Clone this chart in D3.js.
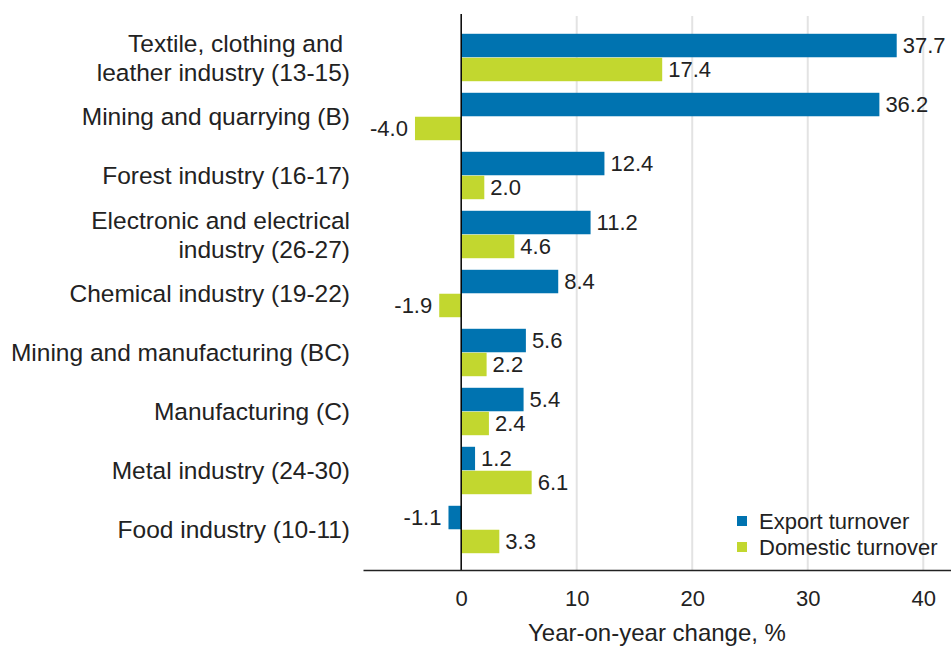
<!DOCTYPE html>
<html>
<head>
<meta charset="utf-8">
<script src="https://cdn.jsdelivr.net/npm/d3@7"></script>
<style>
  body { margin: 0; background: #fff; }
  svg text { font-family: "Liberation Sans", Arial, sans-serif; fill: #222; }
</style>
</head>
<body>
<div id="chart"></div>
<script>
const categories = [
  'Textile, clothing and |leather industry (13-15)',
  'Mining and quarrying (B)',
  'Forest industry (16-17)',
  'Electronic and electrical|industry (26-27)',
  'Chemical industry (19-22)',
  'Mining and manufacturing (BC)',
  'Manufacturing (C)',
  'Metal industry (24-30)',
  'Food industry (10-11)'
];
const exportTurnover = [37.7, 36.2, 12.4, 11.2, 8.4, 5.6, 5.4, 1.2, -1.1];
const domesticTurnover = [17.4, -4.0, 2.0, 4.6, -1.9, 2.2, 2.4, 6.1, 3.3];
const seriesNames = ['Export turnover', 'Domestic turnover'];
const xTicks = [0, 10, 20, 30, 40];

const W = 951, H = 648;
const colors = { 'Export turnover': '#0073b0', 'Domestic turnover': '#c2d72f' };

const svg = d3.select('#chart').append('svg').attr('width', W).attr('height', H);

const x = d3.scaleLinear().domain([-8.5, 42.4]).range([363, 951]);
const y0 = d3.scaleBand().domain(categories).range([28, 559]).paddingInner(0.18).paddingOuter(0.09);
const y1 = d3.scaleBand().domain(seriesNames).range([0, y0.bandwidth()]).padding(0.02);
const plotTop = 14, plotBottom = 570;

// grid
svg.append('g').selectAll('line').data(xTicks.filter(t => t !== 0)).join('line')
  .attr('x1', d => x(d)).attr('x2', d => x(d)).attr('y1', plotTop + 2).attr('y2', plotBottom)
  .attr('stroke', '#e3e3e3').attr('stroke-width', 2);

const rows = categories.map((c, i) => ({
  cat: c,
  vals: [
    { key: seriesNames[0], value: exportTurnover[i] },
    { key: seriesNames[1], value: domesticTurnover[i] }
  ]
}));

const g = svg.append('g').selectAll('g').data(rows).join('g')
  .attr('transform', d => `translate(0,${y0(d.cat)})`);

g.selectAll('rect').data(d => d.vals).join('rect')
  .attr('x', d => x(Math.min(0, d.value)))
  .attr('width', d => Math.abs(x(d.value) - x(0)))
  .attr('y', d => y1(d.key)).attr('height', y1.bandwidth())
  .attr('fill', d => colors[d.key]);

g.selectAll('text.val').data(d => d.vals).join('text').attr('class', 'val')
  .attr('x', d => d.value >= 0 ? x(d.value) + 6 : x(d.value) - 7)
  .attr('y', d => y1(d.key) + y1.bandwidth() / 2)
  .attr('dy', '0.36em')
  .attr('text-anchor', d => d.value >= 0 ? 'start' : 'end')
  .style('font-size', '22px')
  .text(d => d.value.toFixed(1));

// category labels
svg.append('g').selectAll('text').data(categories).join('text')
  .attr('text-anchor', 'end').style('font-size', '24.5px')
  .attr('transform', d => `translate(350,${y0(d) + y0.bandwidth() / 2})`)
  .each(function (d) {
    const lines = d.split('|');
    const t = d3.select(this);
    lines.forEach((ln, i) => {
      t.append('tspan').attr('x', 0)
        .attr('y', (i - (lines.length - 1) / 2) * 29)
        .attr('dy', '0.36em').text(ln);
    });
  });

// zero line
svg.append('line').attr('x1', x(0)).attr('x2', x(0)).attr('y1', plotTop).attr('y2', plotBottom)
  .attr('stroke', '#000').attr('stroke-width', 1.5);

// x axis
const ax = svg.append('g').attr('transform', `translate(0,${plotBottom})`)
  .call(d3.axisBottom(x).tickValues(xTicks).tickSize(0).tickPadding(20));
ax.select('.domain').attr('stroke', '#222').attr('stroke-width', 1.5);
ax.selectAll('text').style('font-size', '22px').style('font-family', '"Liberation Sans", Arial, sans-serif').attr('fill', '#222');

svg.append('text').attr('x', 657).attr('y', 641).attr('text-anchor', 'middle')
  .style('font-size', '24px').text('Year-on-year change, %');

// legend
const lg = svg.append('g').selectAll('g').data(seriesNames).join('g')
  .attr('transform', (d, i) => `translate(737,${521 + i * 26})`);
lg.append('rect').attr('x', 0).attr('y', -5).attr('width', 10).attr('height', 10)
  .attr('fill', d => colors[d]);
lg.append('text').attr('x', 22).attr('dy', '0.36em').style('font-size', '22px').text(d => d);
</script>
</body>
</html>
